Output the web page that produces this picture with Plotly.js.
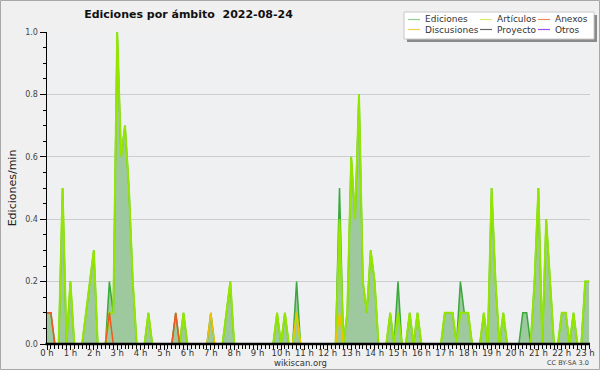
<!DOCTYPE html>
<html><head><meta charset="utf-8">
<script src="https://cdn.plot.ly/plotly-3.0.1.min.js"></script>
<style>html,body{margin:0;padding:0;background:#f0f0f0}#chart{width:600px;height:370px}</style>
</head><body><div id="chart"></div>
<script>
// ---- data: edits per minute, one value per 10-minute slot of 2022-08-24 ----
const slotMinutes = 10;
const ediciones = [
  0.1,0.1,0,0,0.5,0,0.2,0,0,0,0.1,0.2,
  0.3,0,0,0,0.2,0.1,1.0,0.6,0.7,0.5,0.2,0,
  0,0,0.1,0,0,0,0,0,0,0.1,0,0.1,
  0,0,0,0,0,0,0.1,0,0,0,0.1,0.2,
  0,0,0,0,0,0,0,0,0,0,0,0.1,
  0,0.1,0,0,0.2,0,0,0,0,0,0,0,
  0,0,0,0.5,0,0.1,0.6,0.4,0.8,0.2,0.1,0.3,
  0.2,0,0,0,0.1,0,0.2,0,0,0.1,0,0.1,
  0,0,0,0,0,0,0.1,0.1,0.1,0,0.2,0.1,
  0.1,0,0,0,0.1,0,0.5,0.2,0,0.1,0,0,
  0,0,0.1,0.1,0,0.2,0.5,0,0.4,0.2,0,0,
  0.1,0.1,0,0.1,0,0,0.2,0.2
];
const articulos = [
  0,0,0,0,0.5,0,0.2,0,0,0,0.1,0.2,
  0.3,0,0,0,0.1,0.1,1.0,0.6,0.7,0.5,0.2,0,
  0,0,0.1,0,0,0,0,0,0,0,0,0.1,
  0,0,0,0,0,0,0,0,0,0,0.1,0.2,
  0,0,0,0,0,0,0,0,0,0,0,0.1,
  0,0.1,0,0,0.1,0,0,0,0,0,0,0,
  0,0,0,0.4,0,0.1,0.6,0.4,0.8,0.2,0.1,0.3,
  0.2,0,0,0,0.1,0,0.1,0,0,0.1,0,0.1,
  0,0,0,0,0,0,0.1,0.1,0.1,0,0.1,0.1,
  0.1,0,0,0,0.1,0,0.5,0.2,0,0.1,0,0,
  0,0,0,0,0,0.2,0.5,0,0.4,0.2,0,0,
  0.1,0.1,0,0.1,0,0,0.2,0.2
];
const anexos = [
  0.1,0.1,0,0,0,0,0,0,0,0,0,0,
  0,0,0,0,0.1,0,0,0,0,0,0,0,
  0,0,0,0,0,0,0,0,0,0.1,0,0,
  0,0,0,0,0,0,0,0,0,0,0,0,
  0,0,0,0,0,0,0,0,0,0,0,0,
  0,0,0,0,0,0,0,0,0,0,0,0,
  0,0,0,0,0,0,0,0,0,0,0,0,
  0,0,0,0,0,0,0,0,0,0,0,0,
  0,0,0,0,0,0,0,0,0,0,0,0,
  0,0,0,0,0,0,0,0,0,0,0,0,
  0,0,0,0,0,0,0,0,0,0,0,0,
  0,0,0,0,0,0,0,0
];
const discusiones = [
  0,0,0,0,0,0,0,0,0,0,0,0,
  0,0,0,0,0,0,0,0,0,0,0,0,
  0,0,0,0,0,0,0,0,0,0,0,0,
  0,0,0,0,0,0,0.1,0,0,0,0,0,
  0,0,0,0,0,0,0,0,0,0,0,0,
  0,0,0,0,0.1,0,0,0,0,0,0,0,
  0,0,0,0.1,0,0,0,0,0,0,0,0,
  0,0,0,0,0,0,0,0,0,0,0,0,
  0,0,0,0,0,0,0,0,0,0,0,0,
  0,0,0,0,0,0,0,0,0,0,0,0,
  0,0,0,0,0,0,0,0,0,0,0,0,
  0,0,0,0,0,0,0,0
];
const proyecto = [
  0,0,0,0,0,0,0,0,0,0,0,0, 0,0,0,0,0,0,0,0,0,0,0,0,
  0,0,0,0,0,0,0,0,0,0,0,0, 0,0,0,0,0,0,0,0,0,0,0,0,
  0,0,0,0,0,0,0,0,0,0,0,0, 0,0,0,0,0,0,0,0,0,0,0,0,
  0,0,0,0,0,0,0,0,0,0,0,0, 0,0,0,0,0,0,0,0,0,0,0,0,
  0,0,0,0,0,0,0,0,0,0,0,0, 0,0,0,0,0,0,0,0,0,0,0,0,
  0,0,0,0,0,0,0,0,0,0,0,0, 0,0,0,0,0,0,0,0
];
const otros = [
  0,0,0,0,0,0,0,0,0,0,0,0, 0,0,0,0,0,0,0,0,0,0,0,0,
  0,0,0,0,0,0,0,0,0,0,0,0, 0,0,0,0,0,0,0,0,0,0,0,0,
  0,0,0,0,0,0,0,0,0,0,0,0, 0,0,0,0,0,0,0,0,0,0,0,0,
  0,0,0,0,0,0,0,0,0,0,0,0, 0,0,0,0,0,0,0,0,0,0,0,0,
  0,0,0,0,0,0,0,0,0,0,0,0, 0,0,0,0,0,0,0,0,0,0,0,0,
  0,0,0,0,0,0,0,0,0,0,0,0, 0,0,0,0,0,0,0,0
];
const seriesNames = ['Ediciones','Artículos','Anexos','Discusiones','Proyecto','Otros'];
const chartTitle = 'Ediciones por ámbito \u00a02022-08-24';
const yTitle = 'Ediciones/min';
const hourSuffix = ' h';

// ---- layout helpers ----
const W=600,H=370,L=47,R=10,T=32,B=26;
const pw=W-L-R, ph=H-T-B;
const px = x => (x-L)/pw;
const py = y => (H-B-y)/ph;

const hours = ediciones.map((_, i) => i*slotMinutes/60);

const lineColors = ['#3aa83a','#94e600','#ee5a1e','#f2c200','#555555','#9440f0'];
const legendColors = ['#8fd08f','#d2ef6c','#f08a5a','#f6d04a','#666666','#9a50f0'];
const widths = [1.5,2,1.5,1.5,1.5,1.5];
const allSeries = [ediciones, articulos, anexos, discusiones, proyecto, otros];

const traces = allSeries.map((ys, k) => {
  const t = {x: hours, y: ys, type:'scatter', mode:'lines', name: seriesNames[k],
    line:{color: lineColors[k], width: widths[k]}, hoverinfo:'x+y+name'};
  if (k === 0) { t.fill = 'tozeroy'; t.fillcolor = '#9ec99e'; }
  return t;
});

const font = 'DejaVu Sans';
const shapes = [
  {type:'rect', xref:'paper', yref:'paper', x0:px(0.5), x1:px(599.5), y0:py(0.5), y1:py(369.5),
   line:{color:'#a8a8a8', width:1}, layer:'below'},
  {type:'line', xref:'paper', yref:'paper', x0:px(45.5), x1:1, y0:0, y1:0,
   line:{color:'#000', width:2.5}, layer:'above'},
  {type:'rect', xref:'paper', yref:'paper', x0:px(407), x1:px(597), y0:py(15), y1:py(42),
   fillcolor:'#8a8a8a', line:{width:0}},
  {type:'rect', xref:'paper', yref:'paper', x0:px(404), x1:px(594), y0:py(12), y1:py(39),
   fillcolor:'#ffffff', line:{color:'#c8c8c8', width:1}}
];
const annotations = [
  {text:'wikiscan.org', xref:'paper', yref:'paper', x:px(300), y:py(362.5), xanchor:'center', yanchor:'middle',
   showarrow:false, font:{family:font, size:8.5, color:'#333'}},
  {text:'CC BY-SA 3.0', xref:'paper', yref:'paper', x:px(591), y:py(363), xanchor:'right', yanchor:'middle',
   showarrow:false, font:{family:font, size:6.5, color:'#444'}}
];
const colX = [408, 480, 538], rowY = [19.5, 29.5];
seriesNames.forEach((name, k) => {
  const c = k % 3, r = Math.floor(k / 3);
  shapes.push({type:'line', xref:'paper', yref:'paper', x0:px(colX[c]), x1:px(colX[c]+12),
    y0:py(rowY[r]), y1:py(rowY[r]), line:{color:legendColors[k], width:1.2}});
  annotations.push({text:name, xref:'paper', yref:'paper', x:px(colX[c]+15), y:py(rowY[r]),
    xanchor:'left', yanchor:'middle', showarrow:false, font:{family:font, size:9, color:'#333'}});
});

const layout = {
  width:W, height:H, margin:{l:L, r:R, t:T, b:B, pad:0},
  paper_bgcolor:'#f0f0f0', plot_bgcolor:'#eef0f2',
  showlegend:false,
  title:{text:chartTitle, xref:'container', yref:'container', x:188.5/W, xanchor:'center',
    y:1-14/H, yanchor:'middle', font:{family:font, size:11, weight:'bold', color:'#111'}},
  xaxis:{range:[0, pw/23.4], tickmode:'linear', tick0:0, dtick:1, ticksuffix:hourSuffix,
    ticks:'outside', ticklen:5, tickwidth:1, tickcolor:'#000', showgrid:false, zeroline:false,
    showline:false, fixedrange:true, ticklabelstandoff:-4,
    minor:{dtick:1/6, tick0:0, ticks:'outside', ticklen:4, tickwidth:1, tickcolor:'#000', showgrid:false},
    tickfont:{family:font, size:8.5, color:'#333'}},
  yaxis:{range:[0,1], tickmode:'linear', tick0:0, dtick:0.2, tickformat:'.1f',
    ticks:'outside', ticklen:6, tickwidth:1, tickcolor:'#000', showgrid:true, gridcolor:'#cdcdcd', gridwidth:1,
    zeroline:false, showline:true, linecolor:'#000', linewidth:1.5,
    minor:{dtick:0.05, tick0:0, ticks:'outside', ticklen:3, tickwidth:1, tickcolor:'#000', showgrid:false},
    tickfont:{family:font, size:8, color:'#444'},
    title:{text:yTitle, standoff:6, font:{family:font, size:11, color:'#222'}}},
  shapes:shapes, annotations:annotations
};
Plotly.newPlot('chart', traces, layout, {displayModeBar:false, staticPlot:true});
</script></body></html>
